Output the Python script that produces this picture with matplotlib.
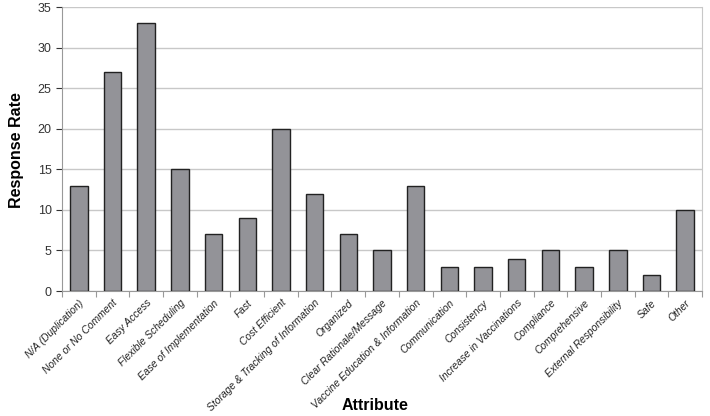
import numpy as np
import matplotlib.pyplot as plt

attributes = ["N/A (Duplication)", "None or No Comment", "Easy Access", "Flexible Scheduling",
              "Ease of Implementation", "Fast", "Cost Efficient",
              "Storage & Tracking of Information", "Organized", "Clear Rationale/Message",
              "Vaccine Education & Information", "Communication", "Consistency",
              "Increase in Vaccinations", "Compliance", "Comprehensive",
              "External Responsibility", "Safe", "Other"]
responses = [13, 27, 33, 15, 7, 9, 20, 12, 7, 5, 13, 3, 3, 4, 5, 3, 5, 2, 10]
y_ticks = [0, 5, 10, 15, 20, 25, 30, 35]

plt.rcParams['font.family'] = ['Liberation Sans', 'DejaVu Sans']

fig = plt.figure(figsize=(7.1, 4.16), dpi=100)
ax = fig.add_axes([62 / 710, 1 - 291 / 416, 640 / 710, 284 / 416])

x = np.arange(len(attributes))
ax.bar(x, responses, width=0.52, color='#939398', edgecolor='#222222', linewidth=1.0, zorder=3)

ax.set_xlim(-0.5, len(attributes) - 0.5)
ax.set_ylim(0, 35)
ax.set_yticks(y_ticks)
ax.tick_params(axis='y', labelsize=9, colors='#333333', length=4, width=0.8)
ax.yaxis.grid(True, color='#c8c8c8', linewidth=1.0, zorder=0)

# labels sit under the bars, ticks go between categories
ax.set_xticks(x)
ax.set_xticklabels(attributes, rotation=45, ha='right', rotation_mode='anchor',
                   fontsize=7.4, style='italic', color='#222222')
ax.tick_params(axis='x', length=0, pad=5)
ax.set_xticks(np.arange(-0.5, len(attributes), 1), minor=True)
ax.tick_params(axis='x', which='minor', length=4, width=0.8, color='#999999')

ax.spines['top'].set_visible(False)
ax.spines['right'].set_color('#c8c8c8')
ax.spines['left'].set_color('#999999')
ax.spines['bottom'].set_color('#999999')

fig.text(17 / 710, 1 - 150 / 416, 'Response Rate', fontsize=11.5, fontweight='bold',
         rotation=90, ha='center', va='center')
fig.text(375 / 710, 1 - 405 / 416, 'Attribute', fontsize=11.5, fontweight='bold',
         ha='center', va='center')

fig.savefig('out.png', dpi=100)
